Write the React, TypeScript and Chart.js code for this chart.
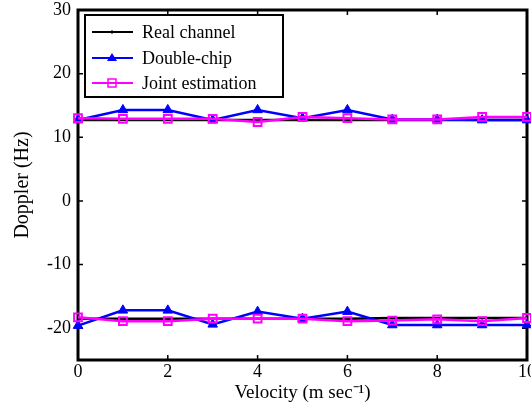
import React, { useEffect, useRef } from "react";
import { Chart, registerables } from "chart.js";

Chart.register(...registerables);

const velocity = [0, 1, 2, 3, 4, 5, 6, 7, 8, 9, 10];
const realUpper = [12.7, 12.7, 12.7, 12.7, 12.7, 12.7, 12.7, 12.7, 12.7, 12.7, 12.7];
const realLower = [-18.5, -18.5, -18.5, -18.5, -18.5, -18.5, -18.5, -18.4, -18.4, -18.4, -18.4];
const doubleUpper = [12.7, 14.3, 14.3, 12.7, 14.3, 13.0, 14.3, 12.8, 12.8, 12.7, 12.7];
const doubleLower = [-19.6, -17.2, -17.2, -19.4, -17.4, -18.5, -17.4, -19.5, -19.5, -19.5, -19.5];
const jointUpper = [13.0, 12.9, 12.9, 12.9, 12.4, 13.2, 13.0, 12.8, 12.8, 13.2, 13.2];
const jointLower = [-18.3, -18.9, -18.9, -18.5, -18.5, -18.5, -18.9, -18.8, -18.6, -18.9, -18.4];

const xTicks = [0, 2, 4, 6, 8, 10];
const yTicks = [-20, -10, 0, 10, 20, 30];
const seriesLabels = ["Real channel", "Double-chip", "Joint estimation"];

const FONT = "'Liberation Serif', 'Times New Roman', serif";
const BLUE = "#0000ff";
const MAGENTA = "#ff00ff";

const toPts = (ys: number[]) => velocity.map((x, i) => ({ x, y: ys[i] }));

const zeroPad = () => ({ left: 0, top: 0, right: 0, bottom: 0 });

const framePlugin = {
  id: "frame",
  beforeDatasetsDraw(chart: any) {
    const { ctx, chartArea: a, scales } = chart;
    ctx.save();
    ctx.strokeStyle = "#000";
    ctx.lineWidth = 3;
    ctx.strokeRect(a.left, a.top, a.right - a.left, a.bottom - a.top);
    ctx.lineWidth = 1.5;
    const tl = 5;
    xTicks.forEach((v) => {
      const px = scales.x.getPixelForValue(v);
      ctx.beginPath();
      ctx.moveTo(px, a.bottom);
      ctx.lineTo(px, a.bottom - tl);
      ctx.moveTo(px, a.top);
      ctx.lineTo(px, a.top + tl);
      ctx.stroke();
    });
    yTicks.forEach((v) => {
      const py = scales.y.getPixelForValue(v);
      ctx.beginPath();
      ctx.moveTo(a.left, py);
      ctx.lineTo(a.left + tl, py);
      ctx.moveTo(a.right, py);
      ctx.lineTo(a.right - tl, py);
      ctx.stroke();
    });
    ctx.restore();
  },
  afterDraw(chart: any) {
    const { ctx } = chart;
    ctx.save();
    const bx = 85, by = 15, bw = 198, bh = 82;
    ctx.fillStyle = "#fff";
    ctx.fillRect(bx, by, bw, bh);
    ctx.strokeStyle = "#000";
    ctx.lineWidth = 2;
    ctx.strokeRect(bx, by, bw, bh);
    const colors = ["#000", BLUE, MAGENTA];
    const ys = [32, 58, 83];
    ctx.font = `18px ${FONT}`;
    ctx.textBaseline = "middle";
    ctx.textAlign = "left";
    seriesLabels.forEach((lab, i) => {
      const y = ys[i];
      ctx.strokeStyle = colors[i];
      ctx.lineWidth = 2;
      ctx.beginPath();
      ctx.moveTo(92, y);
      ctx.lineTo(133, y);
      ctx.stroke();
      const mx = 112;
      if (i === 0) {
        ctx.lineWidth = 1;
        ctx.beginPath();
        ctx.moveTo(mx, y - 2);
        ctx.lineTo(mx, y + 2);
        ctx.stroke();
      } else if (i === 1) {
        ctx.fillStyle = BLUE;
        ctx.beginPath();
        ctx.moveTo(mx, y - 5);
        ctx.lineTo(mx + 5, y + 3);
        ctx.lineTo(mx - 5, y + 3);
        ctx.closePath();
        ctx.fill();
      } else {
        ctx.lineWidth = 1.5;
        ctx.strokeRect(mx - 4, y - 4, 8, 8);
      }
      ctx.fillStyle = "#000";
      ctx.fillText(lab, 142, y + 1);
    });
    ctx.restore();
  },
};

export default function App() {
  const ref = useRef<HTMLCanvasElement>(null);
  useEffect(() => {
    document.body.style.margin = "0";
    const common = { showLine: true, clip: false as any, borderWidth: 2.5, tension: 0 };
    const real = { ...common, label: seriesLabels[0], borderColor: "#000", backgroundColor: "#000", pointStyle: "line" as any, pointRadius: 0, order: 3 };
    const dbl = { ...common, label: seriesLabels[1], borderColor: BLUE, backgroundColor: BLUE, pointStyle: "triangle" as any, pointRadius: 5.5, pointBorderWidth: 1, order: 2 };
    const jnt = { ...common, label: seriesLabels[2], borderColor: MAGENTA, backgroundColor: "rgba(0,0,0,0)", pointStyle: "rect" as any, pointRadius: 5.5, pointBorderWidth: 2, order: 1 };
    const chart = new Chart(ref.current!, {
      type: "scatter",
      data: {
        datasets: [
          { ...real, data: toPts(realUpper) },
          { ...real, data: toPts(realLower) },
          { ...dbl, data: toPts(doubleUpper) },
          { ...dbl, data: toPts(doubleLower) },
          { ...jnt, data: toPts(jointUpper) },
          { ...jnt, data: toPts(jointLower) },
        ],
      },
      options: {
        animation: false,
        responsive: false,
        devicePixelRatio: 1,
        layout: { autoPadding: false, padding: { top: 10, right: 4, left: 0, bottom: 0 } },
        plugins: { legend: { display: false }, tooltip: { enabled: false } },
        scales: {
          x: {
            type: "linear",
            min: 0,
            max: 10,
            grid: { display: false, drawTicks: false },
            border: { display: false },
            afterBuildTicks: (s: any) => { s.ticks = xTicks.map((v) => ({ value: v })); },
            afterFit: (s: any) => { s.height = 50; s.paddingLeft = 0; s.paddingRight = 0; s.getPadding = zeroPad; },
            ticks: { color: "#000", font: { family: FONT, size: 18 }, padding: 1, maxRotation: 0 },
            title: { display: true, text: "Velocity (m sec\u207B\u00B9)", color: "#000", font: { family: FONT, size: 19 }, padding: { top: 0, bottom: 6 } },
          },
          y: {
            type: "linear",
            min: -25,
            max: 30,
            grid: { display: false, drawTicks: false },
            border: { display: false },
            afterBuildTicks: (s: any) => { s.ticks = yTicks.map((v) => ({ value: v })); },
            afterFit: (s: any) => { s.width = 78; s.paddingTop = 0; s.paddingBottom = 0; s.getPadding = zeroPad; },
            ticks: { color: "#000", font: { family: FONT, size: 18 }, padding: 7 },
            title: { display: true, text: "Doppler (Hz)", color: "#000", font: { family: FONT, size: 20 }, padding: { top: 11, bottom: 0 } },
          },
        },
      },
      plugins: [framePlugin],
    });
    return () => chart.destroy();
  }, []);
  return (
    <div style={{ position: "absolute", left: 0, top: 0, width: 531, height: 410 }}>
      <canvas ref={ref} width={531} height={410} />
    </div>
  );
}
